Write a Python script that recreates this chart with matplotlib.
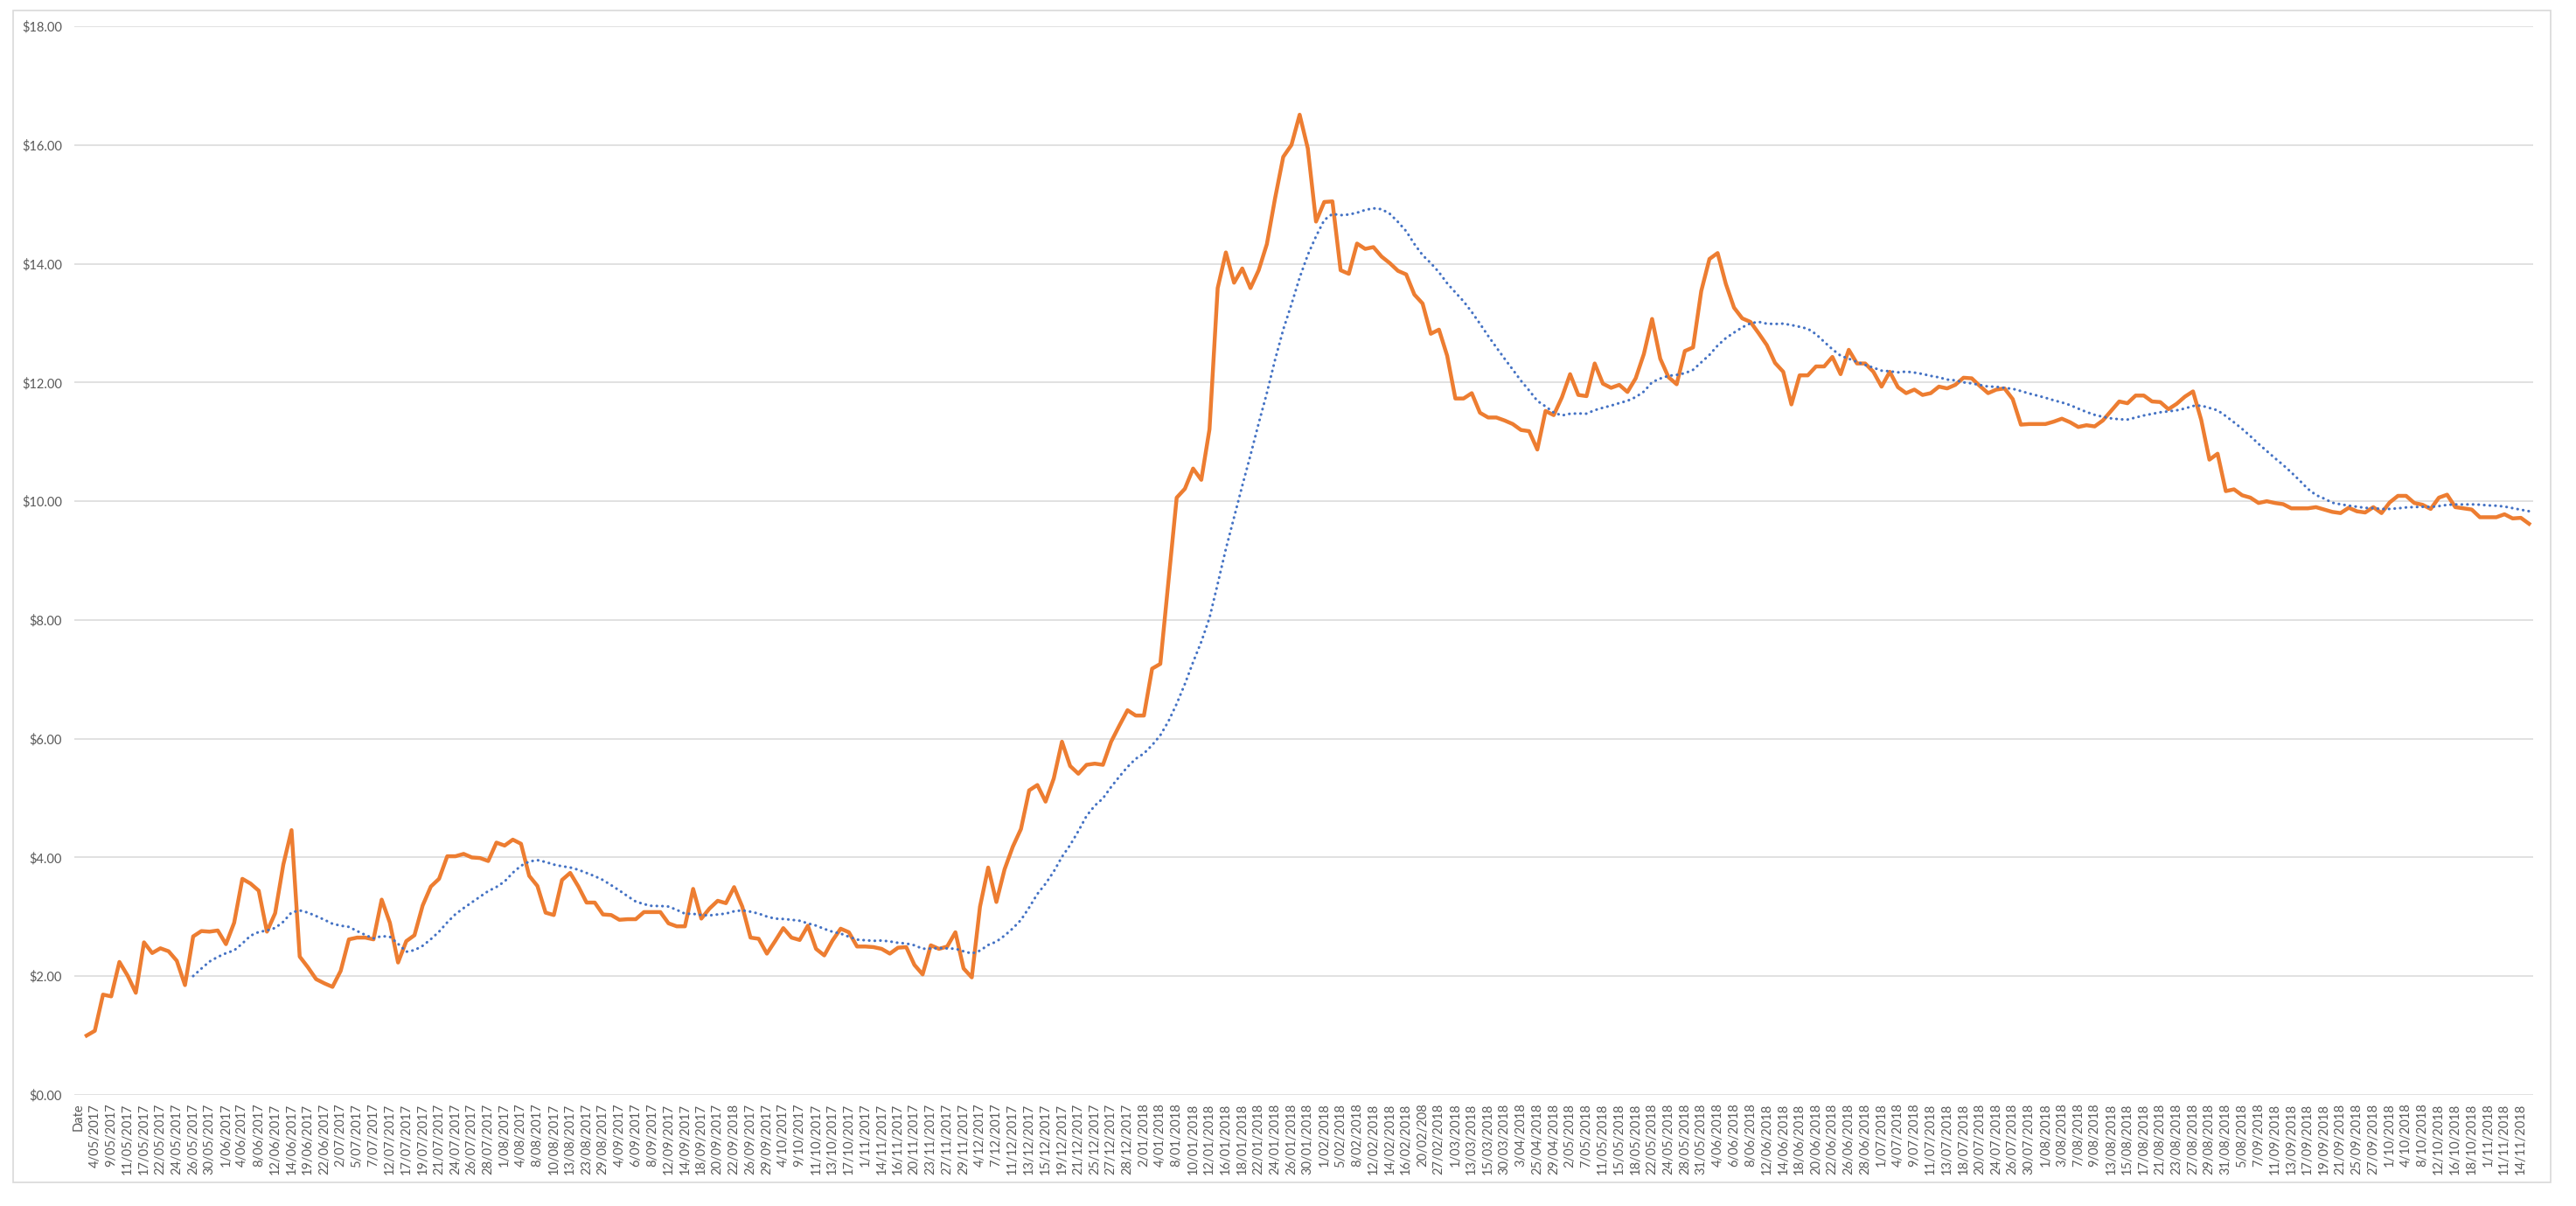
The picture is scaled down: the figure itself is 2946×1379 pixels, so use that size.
import numpy as np
import pandas as pd
import matplotlib
matplotlib.use("Agg")
import matplotlib.pyplot as plt
from matplotlib.patches import Rectangle
from matplotlib.ticker import FuncFormatter

# category labels shown on the axis (every second category, first one is the header "Date")
shown_labels = [
    "Date", "4/05/2017", "9/05/2017", "11/05/2017", "17/05/2017", "22/05/2017", "24/05/2017",
    "26/05/2017", "30/05/2017", "1/06/2017", "4/06/2017", "8/06/2017", "12/06/2017", "14/06/2017",
    "19/06/2017", "22/06/2017", "2/07/2017", "5/07/2017", "7/07/2017", "12/07/2017", "17/07/2017",
    "19/07/2017", "21/07/2017", "24/07/2017", "26/07/2017", "28/07/2017", "1/08/2017", "4/08/2017",
    "8/08/2017", "10/08/2017", "13/08/2017", "23/08/2017", "29/08/2017",
    "4/09/2017", "6/09/2017", "8/09/2017", "12/09/2017", "14/09/2017", "18/09/2017", "20/09/2017",
    "22/09/2018", "26/09/2017", "29/09/2017", "4/10/2017", "9/10/2017", "11/10/2017", "13/10/2017",
    "17/10/2017", "1/11/2017", "14/11/2017", "16/11/2017", "20/11/2017", "23/11/2017", "27/11/2017",
    "29/11/2017", "4/12/2017", "7/12/2017", "11/12/2017", "13/12/2017", "15/12/2017", "19/12/2017",
    "21/12/2017", "25/12/2017", "27/12/2017", "28/12/2017", "2/01/2018", "4/01/2018", "8/01/2018",
    "10/01/2018", "12/01/2018",
    "16/01/2018", "18/01/2018", "22/01/2018", "24/01/2018", "26/01/2018", "30/01/2018", "1/02/2018",
    "5/02/2018", "8/02/2018", "12/02/2018", "14/02/2018", "16/02/2018", "20/02/208", "27/02/2018",
    "1/03/2018", "13/03/2018", "15/03/2018", "30/03/2018", "3/04/2018", "25/04/2018", "29/04/2018",
    "2/05/2018", "7/05/2018", "11/05/2018", "15/05/2018", "18/05/2018", "22/05/2018", "24/05/2018",
    "28/05/2018", "31/05/2018", "4/06/2018", "6/06/2018", "8/06/2018", "12/06/2018", "14/06/2018",
    "18/06/2018", "20/06/2018", "22/06/2018",
    "26/06/2018", "28/06/2018", "1/07/2018", "4/07/2018", "9/07/2018", "11/07/2018", "13/07/2018",
    "18/07/2018", "20/07/2018", "24/07/2018", "26/07/2018", "30/07/2018", "1/08/2018", "3/08/2018",
    "7/08/2018", "9/08/2018", "13/08/2018", "15/08/2018", "17/08/2018", "21/08/2018", "23/08/2018",
    "27/08/2018", "29/08/2018", "31/08/2018", "5/08/2018", "7/09/2018", "11/09/2018", "13/09/2018",
    "17/09/2018", "19/09/2018", "21/09/2018", "25/09/2018", "27/09/2018", "1/10/2018", "4/10/2018",
    "8/10/2018", "12/10/2018", "16/10/2018", "18/10/2018", "1/11/2018", "11/11/2018", "14/11/2018",
]

# closing price, categories 1..299 (category 0 is the "Date" header, empty)
price = [
    1.00, 1.08, 1.69, 1.66, 2.24, 2.01, 1.72, 2.57, 2.39, 2.47,
    2.42, 2.26, 1.85, 2.67, 2.76, 2.75, 2.77, 2.54, 2.90, 3.64,
    3.56, 3.44, 2.75, 3.06, 3.88, 4.46, 2.33, 2.15, 1.95, 1.88,
    1.82, 2.09, 2.62, 2.65, 2.65, 2.62, 3.29, 2.90, 2.23, 2.59,
    2.69, 3.19, 3.51, 3.64, 4.02, 4.02, 4.06, 4.00, 3.99, 3.94,
    4.25, 4.20, 4.30, 4.23, 3.69, 3.52, 3.07, 3.03, 3.62, 3.74,
    3.51, 3.24, 3.24, 3.04, 3.03, 2.95, 2.96, 2.96, 3.08, 3.08,
    3.08, 2.89, 2.84, 2.84, 3.47, 2.97, 3.14, 3.27, 3.23, 3.50,
    3.17, 2.65, 2.63, 2.38, 2.59, 2.81, 2.65, 2.61, 2.85, 2.46,
    2.35, 2.60, 2.80, 2.74, 2.50, 2.50, 2.49, 2.46, 2.38, 2.48,
    2.49, 2.19, 2.03, 2.52, 2.46, 2.50, 2.74, 2.13, 1.98, 3.17,
    3.83, 3.25, 3.80, 4.18, 4.48, 5.13, 5.22, 4.94, 5.33, 5.95,
    5.54, 5.41, 5.56, 5.58, 5.56, 5.95, 6.22, 6.48, 6.39, 6.39,
    7.18, 7.26, 8.66, 10.06, 10.21, 10.55, 10.36, 11.21, 13.59, 14.19,
    13.68, 13.92, 13.59, 13.89, 14.33, 15.10, 15.80, 16.00, 16.51, 15.94,
    14.71, 15.04, 15.05, 13.89, 13.83, 14.34, 14.25, 14.28, 14.12, 14.01,
    13.88, 13.82, 13.48, 13.33, 12.82, 12.89, 12.45, 11.73, 11.73, 11.82,
    11.49, 11.41, 11.41, 11.36, 11.30, 11.20, 11.18, 10.87, 11.52, 11.45,
    11.75, 12.14, 11.79, 11.77, 12.32, 11.98, 11.91, 11.96, 11.84, 12.07,
    12.48, 13.07, 12.40, 12.09, 11.97, 12.53, 12.59, 13.54, 14.08, 14.18,
    13.66, 13.26, 13.08, 13.02, 12.83, 12.63, 12.33, 12.18, 11.63, 12.12,
    12.12, 12.27, 12.27, 12.43, 12.14, 12.55, 12.32, 12.32, 12.18, 11.93,
    12.18, 11.92, 11.82, 11.88, 11.79, 11.82, 11.93, 11.90, 11.96, 12.08,
    12.07, 11.94, 11.82, 11.88, 11.90, 11.72, 11.29, 11.30, 11.30, 11.30,
    11.34, 11.39, 11.33, 11.25, 11.28, 11.26, 11.36, 11.52, 11.68, 11.65,
    11.78, 11.78, 11.68, 11.67, 11.55, 11.64, 11.76, 11.85, 11.37, 10.70,
    10.80, 10.17, 10.20, 10.10, 10.06, 9.97, 10.00, 9.97, 9.95, 9.88,
    9.88, 9.88, 9.90, 9.86, 9.82, 9.80, 9.89, 9.83, 9.81, 9.90,
    9.80, 9.98, 10.09, 10.09, 9.97, 9.94, 9.87, 10.06, 10.11, 9.90,
    9.88, 9.86, 9.73, 9.73, 9.73, 9.78, 9.71, 9.72, 9.62,
]
ma_period = 14

n_cat = len(price) + 1
x = np.arange(1, n_cat)
# moving-average trendline of the price series (as the spreadsheet draws it)
ma = pd.Series(price).rolling(ma_period).mean().to_numpy()

W, H = 2946, 1379
fig = plt.figure(figsize=(W / 100, H / 100), dpi=100)
fig.patches.append(Rectangle((15 / W, 1 - 1352 / H), (2917 - 15) / W, (1352 - 12) / H,
                             transform=fig.transFigure, fill=False,
                             edgecolor="#d9d9d9", linewidth=1.2))

ax = fig.add_axes([85 / W, 1 - 1252 / H, (2897 - 85) / W, (1252 - 30) / H])
ax.plot(x, price, color="#ED7D31", linewidth=3.2, solid_joinstyle="round", zorder=3)
ax.plot(x, ma, color="#4472C4", linewidth=2.2, linestyle=(0, (0.1, 2.0)),
        dash_capstyle="round", zorder=4)

ax.set_xlim(-0.5, n_cat - 0.5)
ax.set_ylim(0, 18)
ax.set_yticks(np.arange(0, 19, 2))
ax.yaxis.set_major_formatter(FuncFormatter(lambda v, p: f"${v:,.2f}"))
ax.set_xticks(np.arange(0, 2 * len(shown_labels), 2))
ax.set_xticklabels(shown_labels, rotation=90)

ax.grid(axis="y", color="#d9d9d9", linewidth=1.1)
ax.set_axisbelow(True)
for s in ax.spines.values():
    s.set_visible(False)
ax.tick_params(axis="both", length=0, labelcolor="#595959", labelsize=10.5)
ax.tick_params(axis="y", pad=10)
ax.tick_params(axis="x", pad=7)
for lab in ax.get_xticklabels() + ax.get_yticklabels():
    lab.set_fontfamily("Lato")

fig.savefig("out.png", dpi=100)
